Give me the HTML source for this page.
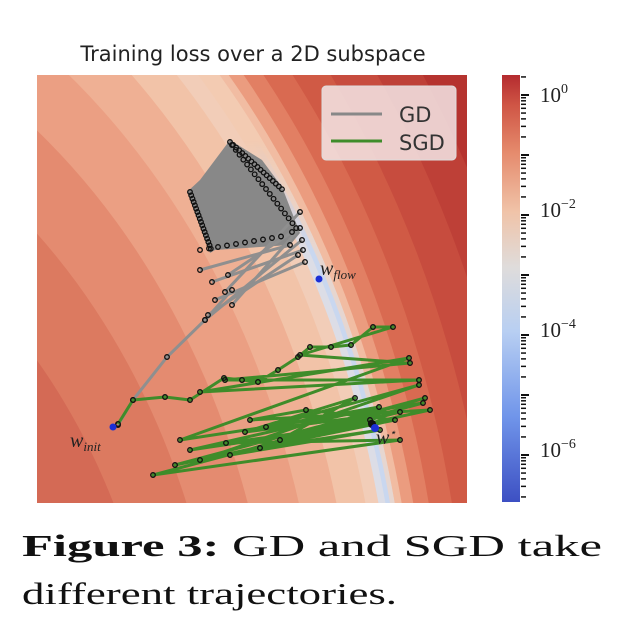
<!DOCTYPE html>
<html><head><meta charset="utf-8"><style>
html,body{margin:0;padding:0;background:#fff;width:634px;height:638px;overflow:hidden}
svg{display:block;overflow:hidden}
</style></head><body>
<svg id="s" width="634" height="638" xmlns="http://www.w3.org/2000/svg">
<defs>
<clipPath id="c"><rect x="37" y="75" width="430" height="428"/></clipPath>
<linearGradient id="cb" x1="0" y1="1" x2="0" y2="0">
<stop offset="0" stop-color="#3d50c3"/>
<stop offset="0.2" stop-color="#7095ea"/>
<stop offset="0.4" stop-color="#b8cff2"/>
<stop offset="0.55" stop-color="#dfdcdb"/>
<stop offset="0.68" stop-color="#f0c3a8"/>
<stop offset="0.82" stop-color="#e58a6c"/>
<stop offset="0.93" stop-color="#cf5545"/>
<stop offset="1" stop-color="#b42b2f"/>
</linearGradient>
<linearGradient id="mg" gradientUnits="userSpaceOnUse" x1="0" y1="140" x2="0" y2="250">
<stop offset="0" stop-color="#000"/>
<stop offset="1" stop-color="#fff"/>
</linearGradient>
<mask id="m" maskUnits="userSpaceOnUse" x="0" y="0" width="634" height="638"><rect x="0" y="0" width="634" height="638" fill="url(#mg)"/></mask>
</defs>
<text x="253" y="61" font-family="DejaVu Sans, Liberation Sans, sans-serif" font-size="21" text-anchor="middle" fill="#222">Training loss over a 2D subspace</text>
<g clip-path="url(#c)" id="bg"></g>
<g clip-path="url(#c)" id="traj"></g>
<rect x="322" y="86" width="134" height="74" rx="4" fill="#f3e6e6" fill-opacity="0.85" stroke="#ddd"/>
<line x1="331" y1="114" x2="382" y2="114" stroke="#888" stroke-width="3"/>
<line x1="331" y1="141" x2="382" y2="141" stroke="#3f8c2a" stroke-width="3"/>
<text x="399" y="122" font-family="DejaVu Sans, sans-serif" font-size="21" fill="#333">GD</text>
<text x="399" y="150" font-family="DejaVu Sans, sans-serif" font-size="21" fill="#333">SGD</text>
<text x="320" y="275" font-family="Liberation Serif, serif" font-style="italic" font-size="20" fill="#222">w<tspan font-size="13" dy="4">flow</tspan></text>
<text x="70" y="447" font-family="Liberation Serif, serif" font-style="italic" font-size="20" fill="#222">w<tspan font-size="13" dy="4">init</tspan></text>
<text x="376" y="444" font-family="Liberation Serif, serif" font-style="italic" font-size="20" fill="#222">w<tspan font-size="11" dy="-8">⋆</tspan></text>
<rect x="502" y="75" width="18" height="427" fill="url(#cb)"/>
<g id="ticks"></g>
<g font-family="Liberation Serif, serif" font-size="21" fill="#222">
<text x="540" y="102">10<tspan font-size="14" dy="-9">0</tspan></text>
<text x="540" y="217">10<tspan font-size="14" dy="-9">−2</tspan></text>
<text x="540" y="337">10<tspan font-size="14" dy="-9">−4</tspan></text>
<text x="540" y="457">10<tspan font-size="14" dy="-9">−6</tspan></text>
</g>
<text x="22" y="556" font-family="Liberation Serif, serif" font-size="31" fill="#111" textLength="580" lengthAdjust="spacingAndGlyphs"><tspan font-weight="bold">Figure 3:</tspan>  GD and SGD take</text>
<text x="22" y="604" font-family="Liberation Serif, serif" font-size="31" fill="#111" textLength="375" lengthAdjust="spacingAndGlyphs">different trajectories.</text>
</svg>
<script>
var NS="http://www.w3.org/2000/svg";
function el(p,t,a){var e=document.createElementNS(NS,t);for(var k in a)e.setAttribute(k,a[k]);p.appendChild(e);return e;}
var bg=document.getElementById('bg');
el(bg,'rect',{x:37,y:75,width:430,height:428,fill:'#b2302e'});
function E(p,s,c,cy){return el(p,'ellipse',{cx:-350,cy:cy||700,rx:757*s,ry:936*s,fill:c});}
[[1.3,'#b5332f'],[1.22,'#be4037'],[1.17,'#c74c3e'],[1.12,'#d05a45'],[1.08,'#d96a51'],[1.05,'#e27f63'],[1.03,'#eb9c7f'],[1.015,'#f1bca2'],[1.006,'#f3cbb2']].forEach(function(b){E(bg,b[0],b[1]);});
var mg=el(bg,'g',{mask:'url(#m)'});
[[1.006,'#e6d6d0'],[1.0,'#c9d7ef'],[0.994,'#dcdde6']].forEach(function(b){E(mg,b[0],b[1]);});
E(bg,0.985,'#f2cdb8');
[[0.97,'#f2c3a8'],[0.935,'#efb094'],[0.89,'#eb9f83'],[0.83,'#e48b70'],[0.76,'#dc7a60'],[0.68,'#d46a55'],[0.58,'#cb5b4a']].forEach(function(b){E(bg,b[0],b[1],700+(1-b[0])*250);});
var tr=document.getElementById('traj');
function dot(x,y){el(tr,'circle',{cx:x,cy:y,r:2.3,fill:'none',stroke:'#111','stroke-width':1.3});}
el(tr,'polygon',{points:'230,140 262,160 282,187 300,233 290,245 215,250 210,253 187,192 200,180',fill:'#888'});
var gd=[[118,425],[133,400],[167,357],[205,320],[232,290]];
el(tr,'polyline',{points:gd.map(String).join(' '),fill:'none',stroke:'#8f8f8f','stroke-width':3});
var fan=[[205,320],[232,305],[208,315],[215,300],[225,292],[200,270],[212,282],[228,275]];
var fanEnd=[[302,240],[300,228],[298,255],[305,262],[300,212],[290,245],[303,250],[292,232]];
for(var i=0;i<fan.length;i++){el(tr,'line',{x1:fan[i][0],y1:fan[i][1],x2:fanEnd[i][0],y2:fanEnd[i][1],stroke:'#8f8f8f','stroke-width':3});}
gd.concat(fan,fanEnd).forEach(function(p){dot(p[0],p[1]);});
for(var i=0;i<18;i++){var t=i/18;dot(230+t*55,142+t*50);dot(190+t*22,192+t*60);dot(232+t*68,145+t*88);}
for(var i=0;i<10;i++){dot(200+i*9,250-i*1.5);}
var sg=[[118,424],[133,400],[165,397],[190,400],[224,378],[242,380],[258,382],[278,370],[298,357],[310,347],[331,347],[351,345],[373,327],[393,327],[300,355],[410,363],[225,380],[419,380],[200,392],[409,358],[180,440],[423,403],[153,475],[400,440],[226,443],[371,423],[190,450],[379,407],[266,427],[419,385],[200,460],[430,410],[250,420],[306,410],[395,420],[175,465],[425,398],[230,455],[380,430],[260,448],[400,412],[245,432],[355,398],[280,440],[370,420]];
el(tr,'polyline',{points:sg.map(String).join(' '),fill:'none',stroke:'#3f8c2a','stroke-width':3,'stroke-linejoin':'round'});
sg.forEach(function(p){dot(p[0],p[1]);});
el(tr,'circle',{cx:113,cy:427,r:3.5,fill:'#1b2fd6'});
el(tr,'circle',{cx:319,cy:279,r:3.5,fill:'#1b2fd6'});
el(tr,'circle',{cx:372,cy:424,r:4,fill:'#111'});
el(tr,'circle',{cx:375,cy:428,r:4,fill:'#1b2fd6'});
var tk=document.getElementById('ticks');
for(var d=1;d>=-7;d--){for(var m=1;m<=9;m++){var v=Math.log10(m)+d;var y=95-60*v;if(y<75||y>502)continue;
el(tk,'line',{x1:521,x2:m==1?529:526,y1:y,y2:y,stroke:'#111','stroke-width':m==1?2:1.5});}}
</script>
</body></html>
